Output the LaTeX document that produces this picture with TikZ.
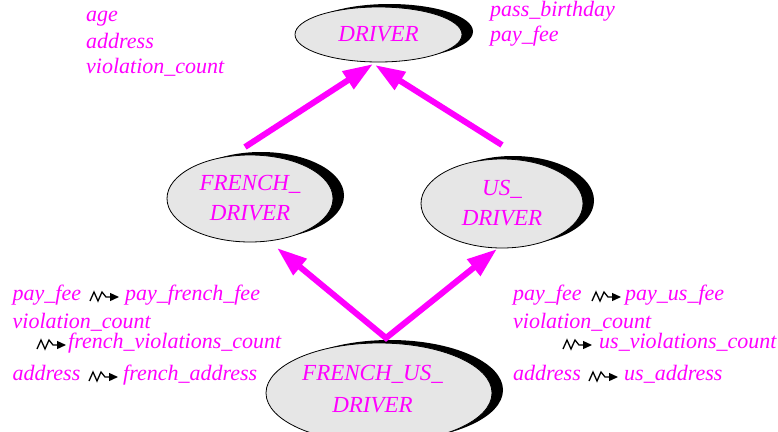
\documentclass[tikz,border=0pt]{standalone}
\usepackage{fontspec}
\setmainfont{Liberation Serif}
\usetikzlibrary{arrows.meta,shapes.geometric,shadows,calc}
\definecolor{feat}{RGB}{255,0,255}
\definecolor{classfill}{RGB}{230,230,230}
\begin{document}
\begin{tikzpicture}[x=1pt,y=-1pt,
  classnode/.style={ellipse, draw=black, line width=0.8pt, fill=classfill, inner sep=0pt,
    drop shadow={shadow xshift=11pt, shadow yshift=3pt, opacity=1, fill=black},
    text=feat, font=\fontsize{23}{30}\selectfont\itshape, align=center},
  classtext/.style={inner sep=0pt, text=feat, font=\fontsize{23}{32}\selectfont\itshape, align=center},
  feature/.style={anchor=base west, inner sep=0pt, text=feat, font=\fontsize{22}{26}\selectfont\itshape},
  inherit/.style={draw=feat, line width=6pt, line join=miter, -{Triangle[length=30pt,width=20pt]}},
  squig/.pic={\draw[line width=1.3pt, line join=miter, -{Triangle[length=9pt,width=8pt]}]
    (0,0) -- (4,-9) -- (8,0) -- (12,-9) -- (16,-4) -- (29,-4);}
]
\useasboundingbox (0,0) rectangle (778,431);

% classes
\node[classnode, minimum width=167pt, minimum height=55pt] (drv) at (378.5,34.5) {DRIVER};
\node[classnode, minimum width=166pt, minimum height=87pt] (fd) at (250,198.5) {FRENCH\_\\DRIVER};
\node[classnode, minimum width=162pt, minimum height=89pt] (usd) at (502,203.5) {US\_\\DRIVER};
\node[classnode, minimum width=226pt, minimum height=100pt] (fud) at (379,393) {};
\node[classtext] (fudtxt) at ($(fud.center)+(-6.5,-4.3)$) {FRENCH\_US\_\\DRIVER};

% inheritance links
\coordinate (fdup) at (245,147);
\coordinate (usup) at (502,145);
\coordinate (drvl) at (373,64);
\coordinate (drvr) at (375,65);
\coordinate (fdlow) at (277,248);
\coordinate (uslow) at (497,249);
\coordinate (fudtop) at (386,338);
\draw[inherit] (fdup) -- (drvl);
\draw[inherit] (usup) -- (drvr);
\draw[inherit, {Triangle[length=30pt,width=20pt]}-{Triangle[length=30pt,width=20pt]}]
  (fdlow) -- (fudtop) -- (uslow);

% features of DRIVER
\node[feature] (age) at (86,21.7) {age};
\node[feature] (addr) at (86,48) {address};
\node[feature] (vc) at (86,73.5) {violation\_count};
\node[feature] (pb) at (490,16.5) {pass\_birthday};
\node[feature] (pf) at (490,41) {pay\_fee};

% renamings for FRENCH_DRIVER
\node[feature] (fpf) at (12.5,300) {pay\_fee};
\pic at (90,301) {squig};
\node[feature] (fpff) at (125,300) {pay\_french\_fee};
\node[feature] (fvc) at (12.5,328) {violation\_count};
\pic at (37,349) {squig};
\node[feature] (ffvc) at (68,348) {french\_violations\_count};
\node[feature] (fad) at (12.5,380) {address};
\pic at (89,381) {squig};
\node[feature] (ffad) at (123,380) {french\_address};

% renamings for US_DRIVER
\node[feature] (upf) at (513,300) {pay\_fee};
\pic at (592,301) {squig};
\node[feature] (upuf) at (625,300) {pay\_us\_fee};
\node[feature] (uvc) at (513,328) {violation\_count};
\pic at (563,349) {squig};
\node[feature] (uuvc) at (599,348) {us\_violations\_count};
\node[feature] (uad) at (513,380) {address};
\pic at (589,381) {squig};
\node[feature] (uuad) at (624,380) {us\_address};
\end{tikzpicture}
\end{document}
